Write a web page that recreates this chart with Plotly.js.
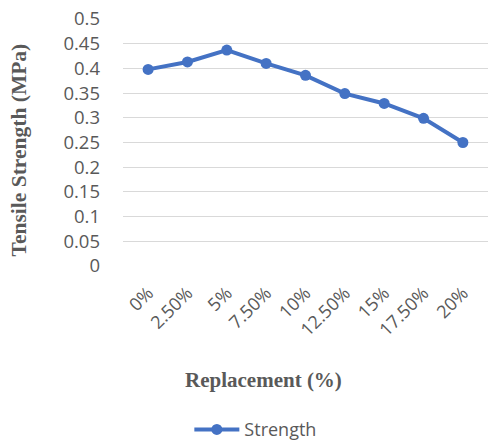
<!DOCTYPE html>
<html><head><meta charset="utf-8">
<script src="https://cdn.plot.ly/plotly-3.0.1.min.js"></script>
<style>html,body{margin:0;padding:0;background:#fff}</style>
</head><body><div id="chart" style="width:488px;height:443px"></div>
<script>
const categories = ["0%","2.50%","5%","7.50%","10%","12.50%","15%","17.50%","20%"];
const strength = [0.398,0.413,0.437,0.410,0.386,0.349,0.329,0.299,0.250];
const yTicks = [0,0.05,0.1,0.15,0.2,0.25,0.3,0.35,0.4,0.45,0.5];
const yTickText = ["0","0.05","0.1","0.15","0.2","0.25","0.3","0.35","0.4","0.45","0.5"];

const blue = "#4472C4";
const grey = "#595959";
const sans = "Open Sans, Noto Sans, sans-serif";
const serif = "Liberation Serif, Times New Roman, serif";

Plotly.newPlot("chart", [{
  type:"scatter", mode:"lines+markers", name:"Strength",
  x: categories, y: strength,
  line:{color:blue, width:4},
  marker:{color:blue, size:11}
}], {
  width:488, height:443,
  margin:{l:123, r:0, t:19, b:177},
  paper_bgcolor:"#fff", plot_bgcolor:"#fff",
  showlegend:true,
  legend:{orientation:"h", xref:"container", yref:"container", x:0.388, y:0.03, xanchor:"left", yanchor:"middle",
    itemwidth:45, font:{family:sans, size:18, color:grey}},
  xaxis:{type:"category", tickangle:-45, tickfont:{family:sans, size:18, color:grey},
    showgrid:false, showline:false, ticks:"", zeroline:false, ticklabelstandoff:12},
  yaxis:{range:[0,0.5], tickvals:yTicks, ticktext:yTickText, tickfont:{family:sans, size:18.5, color:grey},
    showgrid:true, gridcolor:"#d9d9d9", gridwidth:1, zeroline:false, showline:false, ticks:"", ticklabelstandoff:22},
  annotations:[
    {text:"<b>Replacement (%)</b>", xref:"paper", yref:"paper", x:0.386, y:-0.462, showarrow:false,
     xanchor:"center", yanchor:"middle", font:{family:serif, size:21, color:grey}},
    {text:"<b>Tensile Strength (MPa)</b>", xref:"paper", yref:"paper", x:-0.285, y:0.472, showarrow:false,
     textangle:-90, xanchor:"center", yanchor:"middle", font:{family:serif, size:21.5, color:grey}}
  ]
}, {displayModeBar:false, staticPlot:true});
</script></body></html>
